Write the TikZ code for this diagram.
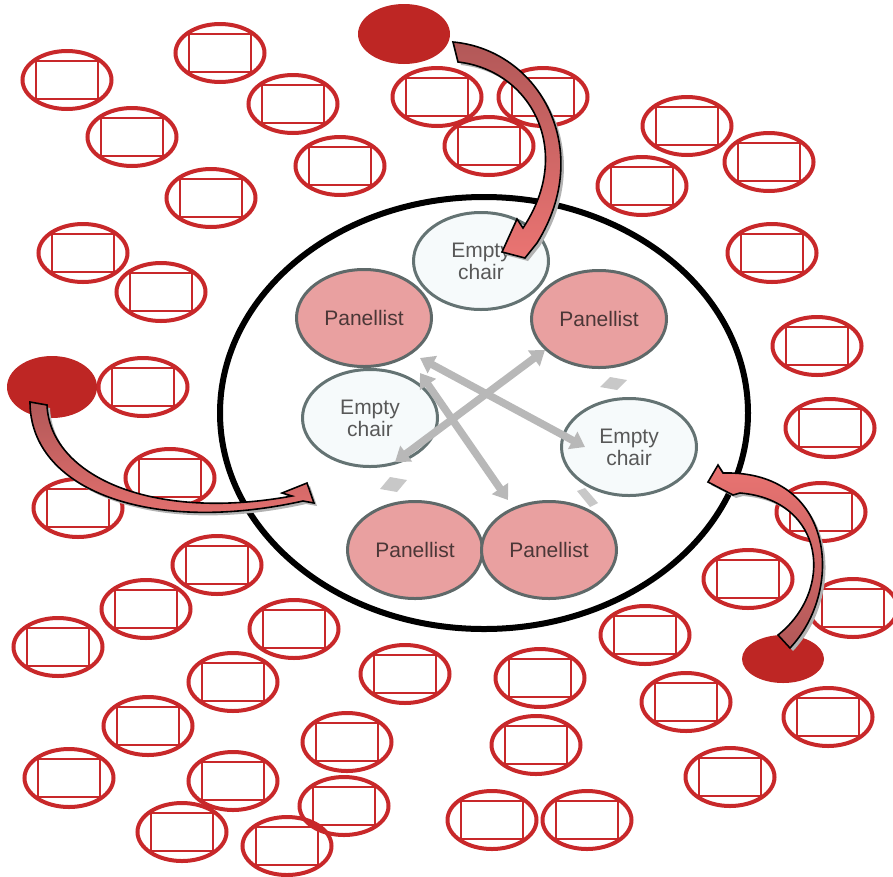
\documentclass[tikz,border=0pt]{standalone}
\usepackage{fontspec}
\setmainfont{Liberation Sans}
\usetikzlibrary{shapes.geometric,arrows.meta,calc,shadows}
\definecolor{seatred}{RGB}{200,40,42}
\definecolor{presred}{RGB}{190,38,36}
\definecolor{panelpink}{RGB}{233,160,160}
\definecolor{panelline}{RGB}{95,105,105}
\definecolor{chairfill}{RGB}{246,250,251}
\definecolor{chairline}{RGB}{100,115,115}
\definecolor{pantext}{RGB}{75,55,55}
\definecolor{chairtext}{RGB}{88,88,88}
\definecolor{arrowdark}{RGB}{178,88,88}
\definecolor{arrowlight}{RGB}{234,116,114}
\definecolor{duplexgray}{RGB}{184,184,184}
\definecolor{ghostgray}{RGB}{200,200,200}

\tikzset{
    seat/.pic={
        \draw[seatred, line width=4pt] (0,0) ellipse (44.5 and 29);
        \draw[seatred, line width=2pt] (-31,-19) rectangle (31,19);
        \draw[seatred, line width=2pt] (-34,-19) -- (34,-19) (-34,19) -- (34,19);
    },
    presenter/.style={ellipse, fill=presred, inner sep=0pt},
    panellist/.style={ellipse, draw=panelline, fill=panelpink, line width=3pt,
        minimum width=135pt, minimum height=97pt, inner sep=0pt,
        font=\fontsize{21}{22}\selectfont, text=pantext, align=center},
    emptychair/.style={panellist, draw=chairline, fill=chairfill, text=chairtext},
    duplex/.style={line width=7.5pt, color=duplexgray,
        {Triangle[width=19pt,length=14pt]}-{Triangle[width=19pt,length=14pt]}},
    swoop/.style={draw=black, line width=1.6pt, line join=miter,
        drop shadow={shadow xshift=3pt, shadow yshift=-3pt, fill=gray!60, opacity=1}},
}

\begin{document}
\begin{tikzpicture}[x=1pt,y=-1pt]
    \useasboundingbox (0,0) rectangle (893,876);
    % audience seats
    \pic at (67,80) {seat};
    \pic at (220,53) {seat};
    \pic at (132,137) {seat};
    \pic at (293,104) {seat};
    \pic at (340,166) {seat};
    \pic at (211,198) {seat};
    \pic at (83,253) {seat};
    \pic at (161,292) {seat};
    \pic at (437,97) {seat};
    \pic at (543,97) {seat};
    \pic at (489,146) {seat};
    \pic at (687,126) {seat};
    \pic at (769,162) {seat};
    \pic at (642,186) {seat};
    \pic at (772,253) {seat};
    \pic at (817,346) {seat};
    \pic at (830,428) {seat};
    \pic at (821,512) {seat};
    \pic at (748,579) {seat};
    \pic at (853,608) {seat};
    \pic at (645,635) {seat};
    \pic at (540,678) {seat};
    \pic at (686,702) {seat};
    \pic at (828,717) {seat};
    \pic at (536,745) {seat};
    \pic at (730,777) {seat};
    \pic at (492,820) {seat};
    \pic at (587,820) {seat};
    \pic at (217,565) {seat};
    \pic at (146,609) {seat};
    \pic at (58,647) {seat};
    \pic at (294,629) {seat};
    \pic at (233,682) {seat};
    \pic at (405,674) {seat};
    \pic at (148,726) {seat};
    \pic at (69,778) {seat};
    \pic at (233,781) {seat};
    \pic at (347,742) {seat};
    \pic at (344,806) {seat};
    \pic at (182,832) {seat};
    \pic at (287,846) {seat};
    \pic at (143,387) {seat};
    \pic at (170,478) {seat};
    \pic at (78,508) {seat};
    % people moving in
    \node[presenter, minimum width=92pt, minimum height=60pt] (presTop) at (404,34) {};
    \node[presenter, minimum width=90pt, minimum height=62pt] (presLeft) at (52,387) {};
    \node[presenter, minimum width=82pt, minimum height=48pt] (presRight) at (783,659) {};
    % the fishbowl
    \draw[line width=6pt] (484,413) ellipse (264 and 216);
    \node[emptychair] (chairTop) at (481,261) {Empty\\chair};
    \node[panellist] (panTL) at (364,318) {Panellist};
    \node[panellist] (panTR) at (599,319) {Panellist};
    \node[emptychair] (chairL) at (370,418) {Empty\\chair};
    \node[emptychair] (chairR) at (629,447) {Empty\\chair};
    \node[panellist] (panBL) at (415,550) {Panellist};
    \node[panellist] (panBR) at (549,550) {Panellist};
    \fill[ghostgray] (600,387) -- (610,377) -- (627,380) -- (617,390) -- cycle;
    \fill[ghostgray] (380,489) -- (390,477) -- (407,480) -- (397,492) -- cycle;
    \fill[ghostgray] (577,491) -- (585,488) -- (598,503) -- (590,507) -- cycle;
    \draw[duplex] ($(panTL)+(56,40)$) -- ($(chairR)+(-44,0)$);
    \draw[duplex] ($(panTR)+(-54,31)$) -- ($(chairL)+(25,44)$);
    \draw[duplex] ($(panTL)+(56,55)$) -- ($(panBR)+(-41,-50)$);
    % curved arrows into the empty chairs
    \draw[swoop, top color=arrowdark, bottom color=arrowlight]
        (453,42) .. controls (540,50) and (595,150) .. (537,243) -- (525,258)
        -- (502,252) -- (517,219) -- (523,228)
        .. controls (575,150) and (530,70) .. (458,62) -- cycle;
    \draw[swoop, top color=arrowdark, bottom color=arrowlight]
        (30,402) .. controls (30,490) and (150,535) .. (303,501) -- (314,503)
        -- (307,483) -- (282,493) -- (292,496)
        .. controls (150,522) and (50,475) .. (47,405) -- cycle;
    \draw[swoop, top color=arrowlight, bottom color=arrowdark]
        (790,648) .. controls (845,590) and (835,470) .. (723,473) -- (718,465)
        -- (708,482) -- (733,495) -- (740,493)
        .. controls (825,500) and (835,590) .. (778,635) -- cycle;
\end{tikzpicture}
\end{document}
